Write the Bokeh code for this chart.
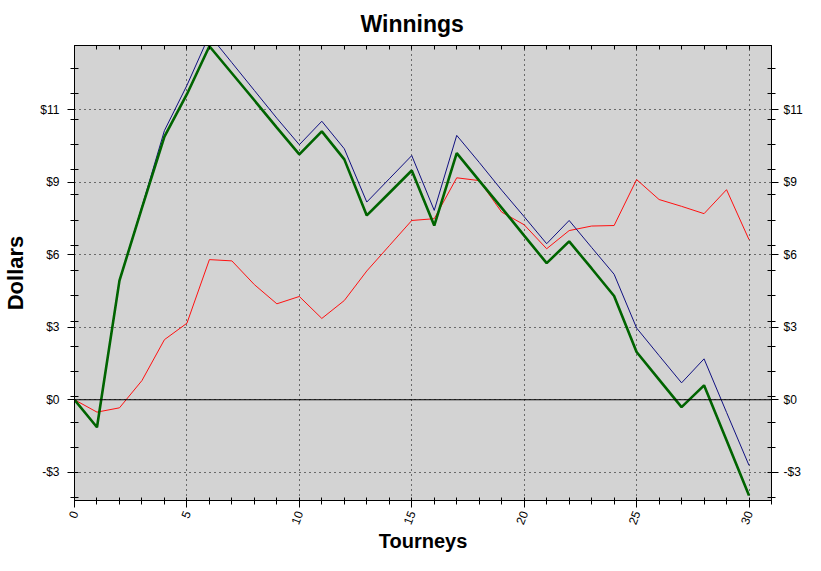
from bokeh.plotting import figure
from bokeh.models import FixedTicker, LinearAxis, Range1d, Span
from bokeh.embed import file_html
from bokeh.resources import INLINE

# ---- data ----
tourneys = list(range(31))
red_series = [0, -0.49, -0.32, 0.76, 2.38, 3.03, 5.55, 5.5, 4.56, 3.8, 4.09, 3.22, 3.93, 5.1, 6.1,
              7.1, 7.17, 8.79, 8.68, 7.43, 6.93, 5.98, 6.7, 6.88, 6.9, 8.72, 7.93, 7.66, 7.37, 8.32, 6.34]
blue_series = [0, -1.09, 4.72, 7.65, 10.66, 12.45, 14.45, 13.35, 12.25, 11.15, 10.1, 11.03, 9.94, 7.83, 8.75,
               9.67, 7.5, 10.47, 9.4, 8.3, 7.25, 6.18, 7.1, 6.03, 4.97, 2.84, 1.75, 0.67, 1.62, -0.5, -2.6]
green_series = [0, -1.09, 4.72, 7.6, 10.42, 12.1, 14.0, 12.93, 11.86, 10.78, 9.72, 10.63, 9.52, 7.3, 8.19,
                9.08, 6.9, 9.77, 8.68, 7.6, 6.5, 5.41, 6.27, 5.2, 4.11, 1.89, 0.8, -0.29, 0.57, -1.6, -3.79]

x_major_ticks = [0, 5, 10, 15, 20, 25, 30]
x_minor_ticks = list(range(32))
y_major_ticks = [-2.87, 0, 2.87, 5.74, 8.61, 11.48]
y_tick_labels = ["-$3", "$0", "$3", "$6", "$9", "$11"]
y_minor_ticks = [round(13.11 - k, 2) for k in range(18)]

title_text = "Winnings"
x_title = "Tourneys"
y_title = "Dollars"

FONT = "Liberation Sans"

p = figure(width=805, height=555, x_range=Range1d(0, 31), y_range=Range1d(-3.99, 14.03),
           output_backend="svg", toolbar_location=None,
           min_border_left=74, min_border_right=31, min_border_top=45, min_border_bottom=55,
           background_fill_color="#d3d3d3", border_fill_color="white",
           outline_line_color="black", outline_line_width=1)

# title
p.title.text = title_text
p.title.align = "left"
p.title.offset = 286
p.title.standoff = 17
p.title.text_font = FONT
p.title.text_font_style = "bold"
p.title.text_font_size = "23px"
p.title.text_color = "black"

xt = FixedTicker(ticks=x_major_ticks, minor_ticks=x_minor_ticks)
yt = FixedTicker(ticks=y_major_ticks, minor_ticks=y_minor_ticks)
overrides = {t: l for t, l in zip(y_major_ticks, y_tick_labels)}

# bottom axis
xa = p.xaxis[0]
xa.ticker = xt
xa.major_tick_in = 0
xa.major_tick_out = 7
xa.minor_tick_in = 3
xa.minor_tick_out = 4
xa.major_label_orientation = 1.2
xa.major_label_standoff = 4
xa.major_label_text_font = FONT
xa.major_label_text_font_size = "12px"
xa.major_label_text_color = "black"
xa.axis_line_color = "black"
xa.major_tick_line_color = "black"
xa.minor_tick_line_color = "black"
xa.axis_label = x_title
xa.axis_label_standoff = 0
xa.axis_label_text_font = FONT
xa.axis_label_text_font_style = "bold"
xa.axis_label_text_font_size = "20px"
xa.axis_label_text_color = "black"

# left axis
ya = p.yaxis[0]
ya.ticker = yt
ya.major_label_overrides = overrides
ya.major_tick_in = 0
ya.major_tick_out = 7
ya.minor_tick_in = 4
ya.minor_tick_out = 4
ya.major_label_standoff = 8
ya.major_label_text_font = FONT
ya.major_label_text_font_size = "12px"
ya.major_label_text_color = "black"
ya.axis_line_color = "black"
ya.major_tick_line_color = "black"
ya.minor_tick_line_color = "black"
ya.axis_label = y_title
ya.axis_label_standoff = 9
ya.axis_label_text_font = FONT
ya.axis_label_text_font_style = "bold"
ya.axis_label_text_font_size = "22px"
ya.axis_label_text_color = "black"

# top axis (minor ticks only, no labels)
top_ticker = FixedTicker(ticks=[], minor_ticks=x_minor_ticks)
top = LinearAxis(ticker=top_ticker, major_tick_in=4, major_tick_out=0, minor_tick_in=4, minor_tick_out=0,
                 major_label_standoff=0,
                 axis_line_color="black", major_tick_line_color="black", minor_tick_line_color="black")
p.add_layout(top, "above")

# right axis
right = LinearAxis(ticker=yt, major_label_overrides=overrides, major_tick_in=0, major_tick_out=7,
                   minor_tick_in=4, minor_tick_out=4, major_label_standoff=5,
                   major_label_text_font=FONT, major_label_text_font_size="12px",
                   major_label_text_color="black",
                   axis_line_color="black", major_tick_line_color="black", minor_tick_line_color="black")
p.add_layout(right, "right")

# grids
p.xgrid.ticker = xt
p.ygrid.ticker = yt
for g in (p.xgrid[0], p.ygrid[0]):
    g.grid_line_color = "black"
    g.grid_line_dash = "1 4"
    g.grid_line_width = 1
    g.grid_line_alpha = 1.0

p.add_layout(Span(location=0, dimension="width", line_color="black", line_width=1))

# lines
p.line(tourneys, red_series, line_color="#ff1010", line_width=1)
p.line(tourneys, blue_series, line_color="#101080", line_width=1)
p.line(tourneys, green_series, line_color="#006400", line_width=2.6)

open("out.html", "w").write(file_html(p, INLINE))
